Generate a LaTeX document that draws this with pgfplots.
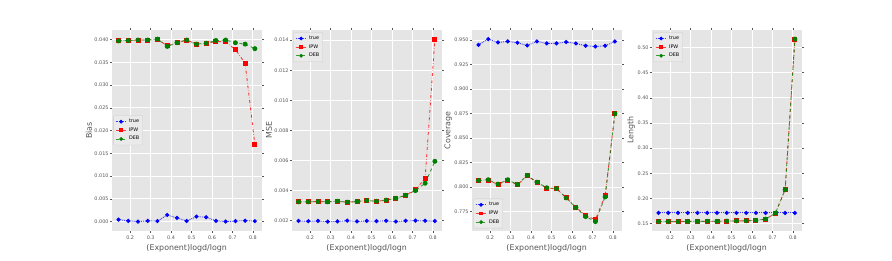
\documentclass[border=0pt]{standalone}
\usepackage{fontspec}
\setmainfont{DejaVu Sans}
\usepackage{pgfplots}
\pgfplotsset{compat=1.18}
\definecolor{bgc}{HTML}{E5E5E5}
\definecolor{tickc}{HTML}{555555}
\definecolor{dgreen}{RGB}{0,128,0}

\pgfplotstableread{
x       bt       bi      bd      mt       mi       md       ct      ci      cd      lt     li     ld
0.142857 0.00044 0.03978 0.0397 0.00197 0.00324 0.00324 0.9452 0.8068 0.8068 0.1712 0.1540 0.1540
0.190476 0.00015 0.03978 0.0398 0.00195 0.00324 0.00324 0.9510 0.8071 0.8075 0.1712 0.1540 0.1540
0.238095 0.00000 0.0399 0.0399 0.00197 0.00326 0.00326 0.9476 0.8027 0.8030 0.1712 0.1540 0.1540
0.285714 0.00015 0.0399 0.0399 0.00193 0.00324 0.00324 0.9486 0.8071 0.8075 0.1712 0.1543 0.1543
0.333333 0.00012 0.0401 0.0401 0.00194 0.00328 0.00328 0.9473 0.8023 0.8027 0.1712 0.1543 0.1543
0.380952 0.00145 0.0386 0.0385 0.00199 0.00322 0.00322 0.9445 0.8115 0.8119 0.1712 0.1546 0.1546
0.428571 0.00080 0.0393 0.0393 0.00194 0.00326 0.00326 0.9486 0.8047 0.8050 0.1712 0.1546 0.1546
0.476190 0.00013 0.0399 0.0399 0.00197 0.00333 0.00333 0.9466 0.7989 0.7993 0.1712 0.1550 0.1550
0.523810 0.00110 0.0390 0.0390 0.00196 0.00328 0.00328 0.9466 0.7986 0.7986 0.1712 0.1553 0.1553
0.571429 0.00096 0.0391 0.0392 0.00198 0.00335 0.00335 0.9480 0.7890 0.7890 0.1712 0.1556 0.1556
0.619048 0.00015 0.0396 0.0398 0.00193 0.00348 0.00348 0.9466 0.7794 0.7791 0.1712 0.1566 0.1566
0.666667 0.00000 0.0395 0.0399 0.00198 0.00368 0.00368 0.9442 0.7709 0.7699 0.1712 0.1590 0.1590
0.714286 0.00010 0.0378 0.0393 0.00199 0.00404 0.00399 0.9435 0.7668 0.7648 0.1712 0.1706 0.1706
0.761905 0.00020 0.0348 0.0390 0.00198 0.00481 0.00448 0.9442 0.7914 0.7900 0.1712 0.2176 0.2176
0.809524 0.00010 0.0169 0.0380 0.00196 0.01407 0.00594 0.9486 0.8750 0.8750 0.1712 0.5166 0.5166
}\datatable

\pgfplotsset{
  panel/.style={
    scale only axis, width=150pt, height=200.7pt, anchor=south west,
    axis background/.style={fill=bgc},
    axis line style={draw=none},
    grid=major, major grid style={white, line width=0.9pt},
    tick style={tickc, line width=0.5pt}, tick align=outside, major tick length=2pt,
    xtick={0.2,0.3,...,0.8},
    xmin=0.1095, xmax=0.8429,
    /pgf/number format/assume math mode=true,
    scaled y ticks=false, scaled x ticks=false,
    xticklabel style={font=\fontsize{4.9}{5.5}\selectfont, text=tickc, /pgf/number format/.cd, fixed, fixed zerofill, precision=1},
    yticklabel style={font=\fontsize{4.9}{5.5}\selectfont, text=tickc, inner sep=1pt},
    label style={font=\fontsize{7.9}{9}\selectfont, text=tickc},
    xlabel={(Exponent)logd/logn},
    xlabel style={yshift=2pt},
    ylabel style={yshift=-2pt},
    legend cell align=left,
    legend style={font=\fontsize{4.9}{5.5}\selectfont, fill=white!92!black, fill opacity=0.9, text opacity=1,
      draw=white!80!black, line width=0.3pt, inner sep=1.5pt, row sep=-0.4pt, rounded corners=0.8pt},
    legend image code/.code={
      \draw[mark repeat=2,mark phase=2,##1, mark size=1.4pt] plot coordinates {(0pt,0pt) (5.5pt,0pt) (11pt,0pt)};
    },
  },
  strue/.style={blue, densely dotted, line width=0.9pt, draw opacity=0.75, mark=*, mark size=1.6pt, mark options={solid, draw opacity=1, fill=blue}},
  sipw/.style={red, dash dot, line width=0.9pt, draw opacity=0.75, mark=square*, mark size=2pt, mark options={solid, draw opacity=1, fill=red}},
  sdeb/.style={dgreen, dashed, line width=0.9pt, draw opacity=0.75, mark=*, mark size=2pt, mark options={solid, draw opacity=1, fill=dgreen}},
}

\begin{document}
\begin{tikzpicture}[x=1pt,y=1pt]
\path[use as bounding box] (0,0) rectangle (892,260);

\begin{axis}[panel, at={(111.7pt,29.3pt)},
  ymin=-0.002005, ymax=0.042105,
  ytick={0,0.005,...,0.0401},
  yticklabel style={/pgf/number format/.cd, fixed, fixed zerofill, precision=3},
  ylabel={Bias},
  legend style={at={(0.012,0.5)}, anchor=west}]
\addplot[strue] table[x=x,y=bt]{\datatable};
\addplot[sipw] table[x=x,y=bi]{\datatable};
\addplot[sdeb] table[x=x,y=bd]{\datatable};
\legend{true,IPW,DEB}
\end{axis}

\begin{axis}[panel, at={(291.7pt,29.3pt)},
  ymin=0.00132, ymax=0.01468,
  ytick={0.002,0.004,0.006,0.008,0.010,0.012,0.014},
  yticklabel style={/pgf/number format/.cd, fixed, fixed zerofill, precision=3},
  ylabel={MSE},
  legend style={at={(0.012,0.988)}, anchor=north west}]
\addplot[strue] table[x=x,y=mt]{\datatable};
\addplot[sipw] table[x=x,y=mi]{\datatable};
\addplot[sdeb] table[x=x,y=md]{\datatable};
\legend{true,IPW,DEB}
\end{axis}

\begin{axis}[panel, at={(471.7pt,29.3pt)},
  ymin=0.7555, ymax=0.9603,
  ytick={0.775,0.800,0.825,0.850,0.875,0.900,0.925,0.950},
  yticklabel style={/pgf/number format/.cd, fixed, fixed zerofill, precision=3},
  ylabel={Coverage},
  legend style={at={(0.012,0.012)}, anchor=south west}]
\addplot[strue] table[x=x,y=ct]{\datatable};
\addplot[sipw] table[x=x,y=ci]{\datatable};
\addplot[sdeb] table[x=x,y=cd]{\datatable};
\legend{true,IPW,DEB}
\end{axis}

\begin{axis}[panel, at={(651.7pt,29.3pt)},
  ymin=0.1359, ymax=0.5347,
  ytick={0.15,0.20,0.25,0.30,0.35,0.40,0.45,0.50},
  yticklabel style={/pgf/number format/.cd, fixed, fixed zerofill, precision=2},
  ylabel={Length},
  legend style={at={(0.012,0.988)}, anchor=north west}]
\addplot[strue] table[x=x,y=lt]{\datatable};
\addplot[sipw] table[x=x,y=li]{\datatable};
\addplot[sdeb] table[x=x,y=ld]{\datatable};
\legend{true,IPW,DEB}
\end{axis}
\end{tikzpicture}
\end{document}
